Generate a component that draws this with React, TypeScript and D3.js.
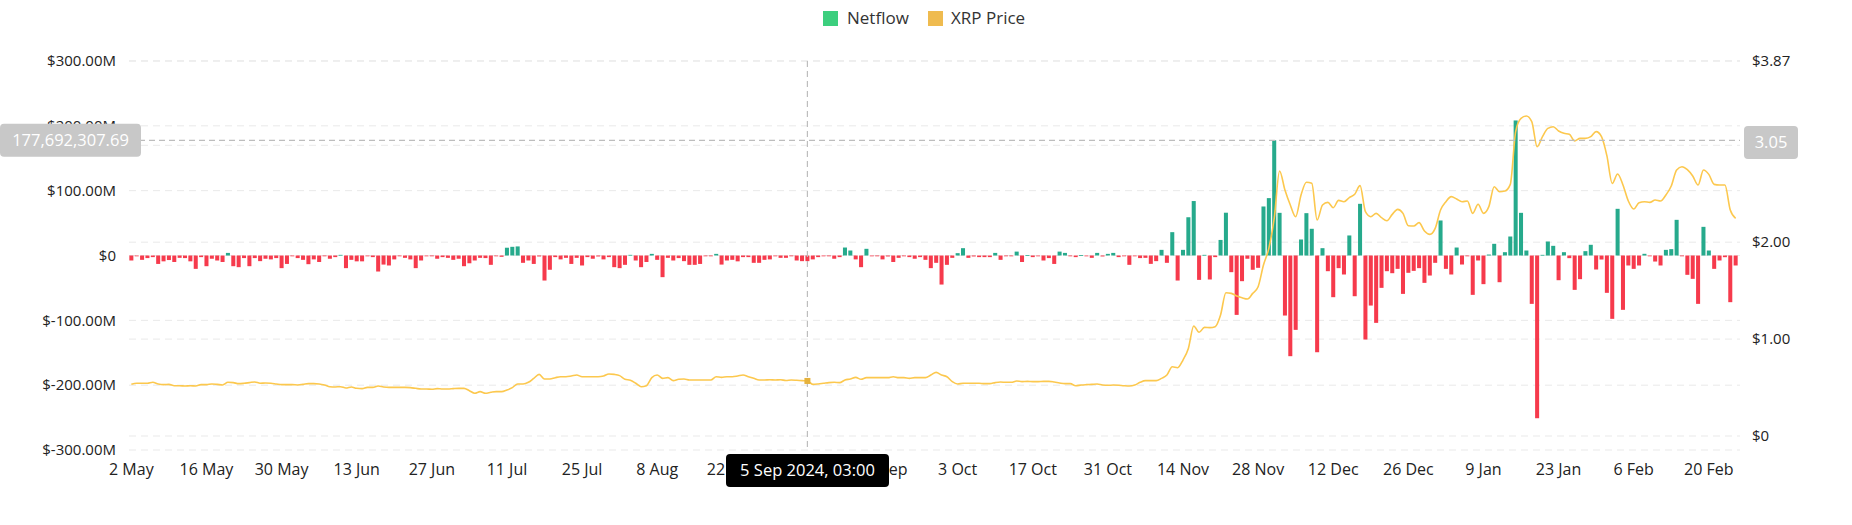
import * as d3 from 'd3';

// daily values, 2 May 2024 .. 25 Feb 2025
const netflow = [
  -7.7, -1, -6.7, -4, -2.5, -13, -9, -7, -10, -3.6, -4, -9, -20.6, -2.5, -16.5, -5, -7.7, -10, 4, -16.5,
  -18, -4, -16.5, -4, -8.7, -5, -6, -4, -19.5, -13, -1, -4, -6.7, -13.4, -6, -10, -1, -5, -2.5, 1,
  -19.5, -6.7, -9, -9, -1, -2.5, -24.7, -14, -15.4, -6, -1, -3.6, -6, -19.5, -7.7, -0.3, -1, -5, -2.5, -3.6,
  -6.7, -5, -16.5, -12, -7.7, -3.6, -4, -14.4, -0.5, -2, 12, 13.4, 14, -11.3, -7.7, -13, -1.5, -38.6, -22, -2.5,
  -6, -3.6, -13, -3.6, -15.4, -2.5, -5, -1.5, -6, -2.5, -18, -19.5, -14.4, 1, -7.7, -18, -10, 2.5, -6.7, -33.4,
  -3.6, -7.7, -4, -8.7, -14.4, -14.4, -13, -1, -1, 2.5, -14, -7.7, -6.7, -9, -2.5, -2.5, -11.3, -11.3, -6.7, -6,
  -1, -3.6, -3.6, -1, -7.7, -8.7, -8.7, -6, -2.5, -1, -0.5, -5, -2.5, 12.3, 7.7, -6, -18, 10.3, -1, -1,
  -6, -1.5, -10, -3.6, -1, -2.5, -5, -2.5, -6.7, -19.5, -11.3, -44.8, -14.4, -3.6, 3.6, 11.3, -3.6, -1.5, -2.5, -2.5,
  -2.5, 4, -6.7, -1, -1, 6, -10, 0.5, -2.5, -0.5, -7.7, -4, -13, 6, 4, -1, -2.5, 0.5, -1, -3.6,
  4, -1.5, 2.5, 4, -2.5, -0.3, -14.4, -1, -4, -3.6, -12.9, -8.7, 8.7, -11.3, 36, -38.6, 8.7, 59, 84, -37.6,
  1, -37, -2.5, 24, 66, -25.7, -91.6, -39.6, -5, -22, -19, 75.6, 88.5, 177.69, 65.8, -92.6, -155.3, -114.7, 24.7, 65.3,
  41.2, -149.2, 11.3, -24.2, -64.3, -19.5, -29.3, 30.9, -62.8, 79.7, -129.6, -77.2, -103.9, -49.9, -24.2, -27.3, -20.6, -59.2, -26.7, -23.7,
  -19.5, -42.2, -30.9, -11.3, 54, -20.6, -29.3, 12.3, -13.9, -1, -60.7, -7.7, -44.2, 1.5, 18, -41.2, 5.1, 29.3, 208.3, 65.8,
  7.7, -74.6, -251, 1, 21.6, 14.9, -38.1, 5.1, -4.1, -53, -36.5, 6.7, 16.5, -21.6, -6.2, -57.6, -97.7, 72, -83.8, -15.4,
  -20.6, -15.4, 2.6, -0.5, -9.3, -15.4, 8.7, 9.8, 55, -1, -29.8, -36, -74.6, 44.2, 7.7, -20.6, -7.7, -2.6, -72, -15.4,
];

const price = [
  0.533, 0.544, 0.544, 0.544, 0.554, 0.537, 0.53, 0.533, 0.519, 0.519, 0.516, 0.519, 0.516, 0.53, 0.53, 0.537, 0.533, 0.527, 0.554, 0.551,
  0.54, 0.544, 0.551, 0.558, 0.544, 0.547, 0.544, 0.537, 0.53, 0.53, 0.53, 0.527, 0.533, 0.54, 0.54, 0.537, 0.527, 0.509, 0.506, 0.509,
  0.495, 0.506, 0.492, 0.489, 0.502, 0.502, 0.516, 0.506, 0.502, 0.502, 0.502, 0.502, 0.499, 0.492, 0.485, 0.485, 0.482, 0.489, 0.485, 0.485,
  0.489, 0.492, 0.492, 0.468, 0.441, 0.458, 0.441, 0.451, 0.458, 0.458, 0.475, 0.499, 0.537, 0.537, 0.554, 0.595, 0.636, 0.588, 0.588, 0.602,
  0.612, 0.612, 0.619, 0.629, 0.612, 0.612, 0.612, 0.612, 0.619, 0.64, 0.636, 0.623, 0.585, 0.575, 0.544, 0.509, 0.519, 0.602, 0.629, 0.595,
  0.602, 0.571, 0.585, 0.588, 0.578, 0.578, 0.578, 0.578, 0.578, 0.612, 0.605, 0.612, 0.612, 0.619, 0.629, 0.612, 0.595, 0.578, 0.578, 0.581,
  0.578, 0.581, 0.572, 0.578, 0.575, 0.571, 0.568, 0.533, 0.537, 0.544, 0.551, 0.554, 0.551, 0.578, 0.588, 0.605, 0.585, 0.602, 0.602, 0.602,
  0.602, 0.602, 0.612, 0.602, 0.602, 0.595, 0.602, 0.602, 0.602, 0.629, 0.657, 0.629, 0.612, 0.561, 0.537, 0.544, 0.544, 0.544, 0.544, 0.54,
  0.54, 0.551, 0.557, 0.554, 0.554, 0.568, 0.561, 0.564, 0.561, 0.561, 0.564, 0.564, 0.557, 0.547, 0.54, 0.54, 0.519, 0.526, 0.53, 0.533,
  0.537, 0.526, 0.523, 0.526, 0.524, 0.519, 0.516, 0.526, 0.554, 0.571, 0.571, 0.571, 0.595, 0.629, 0.714, 0.705, 0.784, 0.904, 1.135, 1.07,
  1.121, 1.118, 1.128, 1.249, 1.479, 1.472, 1.445, 1.427, 1.414, 1.472, 1.541, 1.765, 1.937, 2.246, 2.735, 2.538, 2.384, 2.263, 2.487, 2.618,
  2.608, 2.229, 2.384, 2.411, 2.356, 2.432, 2.418, 2.46, 2.494, 2.584, 2.315, 2.263, 2.298, 2.253, 2.222, 2.287, 2.339, 2.298, 2.17, 2.167,
  2.202, 2.116, 2.081, 2.143, 2.332, 2.418, 2.47, 2.446, 2.418, 2.425, 2.298, 2.391, 2.298, 2.367, 2.573, 2.521, 2.528, 2.597, 3.141, 3.278,
  3.302, 3.244, 2.986, 3.09, 3.175, 3.192, 3.148, 3.124, 3.113, 3.045, 3.072, 3.072, 3.089, 3.141, 3.089, 2.893, 2.607, 2.704, 2.59, 2.425,
  2.343, 2.408, 2.418, 2.411, 2.435, 2.425, 2.487, 2.58, 2.745, 2.779, 2.748, 2.683, 2.59, 2.745, 2.7, 2.597, 2.59, 2.59, 2.332, 2.246,
];

const xTickLabels = [
  '2 May', '16 May', '30 May', '13 Jun', '27 Jun', '11 Jul', '25 Jul', '8 Aug', '22 Aug', '5 Sep', '19 Sep',
  '3 Oct', '17 Oct', '31 Oct', '14 Nov', '28 Nov', '12 Dec', '26 Dec', '9 Jan', '23 Jan', '6 Feb', '20 Feb',
];
const leftTicks = [300, 200, 100, 0, -100, -200, -300];
const rightTicks = [3.87, 3, 2, 1, 0];

// crosshair state in the screenshot
const hoverIndex = 126;
const hoverNetflow = 177692307.69;
const hoverPrice = 3.05;
const hoverLabel = '5 Sep 2024, 03:00';

const W = 1852;
const H = 525;
const left = 129;
const right = 1740;
const top = 61;
const bottom = 450;
const font = '"Open Sans", "Noto Sans", sans-serif';

const dates = d3.timeDay.range(new Date(2024, 4, 2), new Date(2024, 4, 2 + netflow.length));
const fmtDay = d3.timeFormat('%-d %b');

export default function App() {
  const x = d3.scaleBand<number>()
    .domain(d3.range(netflow.length))
    .range([left - 1, right - 1])
    .padding(0.25);
  const yL = d3.scaleLinear().domain([-300, 300]).range([bottom, top]);
  const yR = d3.scaleLinear().domain([0, 3.87]).range([436, top]);
  const cx = (i: number) => (x(i) ?? 0) + x.bandwidth() / 2;

  const line = d3.line<number>()
    .x((_, i) => cx(i))
    .y(d => yR(d))
    .curve(d3.curveMonotoneX);

  const fmtLeft = (v: number) => (v === 0 ? '$0' : `$${v.toFixed(2)}M`);
  const fmtRight = (v: number) => (v === 0 ? '$0' : `$${v.toFixed(2)}`);

  const hx = cx(hoverIndex);
  const hy = yL(hoverNetflow / 1e6);

  return (
    <svg width={W} height={H} style={{ position: 'absolute', left: 0, top: 0, fontFamily: font }}>
      <rect width={W} height={H} fill="#fff" />

      {/* legend */}
      <g fontSize={17} fill="#333">
        <rect x={823} y={11} width={15} height={15} fill="#3ccf7e" />
        <text x={847} y={24}>Netflow</text>
        <rect x={928} y={11} width={15} height={15} fill="#efbb4f" />
        <text x={951} y={24}>XRP Price</text>
      </g>

      {/* grid */}
      <g stroke="#e9e9e9" strokeDasharray="7,5">
        {leftTicks.map(t => (
          <line key={'gl' + t} x1={left} x2={right} y1={yL(t)} y2={yL(t)} />
        ))}
        {rightTicks.map(t => (
          <line key={'gr' + t} x1={left} x2={right} y1={yR(t)} y2={yR(t)} />
        ))}
      </g>

      {/* netflow bars */}
      <g>
        {netflow.map((v, i) => (
          <rect
            key={i}
            x={x(i)}
            width={x.bandwidth()}
            y={Math.min(yL(0), yL(v))}
            height={Math.max(0.8, Math.abs(yL(v) - yL(0)))}
            fill={v >= 0 ? '#26aa8c' : '#f63a4c'}
          />
        ))}
      </g>

      {/* price line */}
      <path d={line(price) ?? ''} fill="none" stroke="#fcc84e" strokeWidth={1.6} />

      {/* crosshair */}
      <g stroke="#bdbdbd" strokeDasharray="6,4" strokeWidth={1.2}>
        <line x1={hx} x2={hx} y1={top} y2={bottom} />
        <line x1={left} x2={right} y1={hy} y2={hy} />
      </g>
      <rect x={hx - 3} y={yR(price[hoverIndex]) - 3} width={6} height={6} fill="#e6b23c" />

      {/* left axis */}
      <g fontSize={15} fill="#222" textAnchor="end">
        {leftTicks.map(t => (
          <text key={t} x={116} y={yL(t)} dy="0.35em">{fmtLeft(t)}</text>
        ))}
      </g>

      {/* right axis */}
      <g fontSize={15} fill="#222">
        {rightTicks.map(t => (
          <text key={t} x={1752} y={yR(t)} dy="0.35em">{fmtRight(t)}</text>
        ))}
      </g>

      {/* x axis */}
      <g fontSize={16} fill="#222" textAnchor="middle">
        {xTickLabels.map(lbl => {
          const i = dates.findIndex(d => fmtDay(d) === lbl);
          return (
            <text key={lbl} x={cx(i)} y={475}>{lbl}</text>
          );
        })}
      </g>

      {/* crosshair labels */}
      <g fontSize={16.5} fill="#fff" textAnchor="middle">
        <rect x={0} y={hy - 16.5} width={141} height={33} rx={4} fill="#c8c8c8" />
        <text x={70.5} y={hy} dy="0.35em">{d3.format(',.2f')(hoverNetflow)}</text>
        <rect x={1744} y={yR(hoverPrice) - 16.5 + 2} width={54} height={33} rx={4} fill="#c8c8c8" />
        <text x={1771} y={yR(hoverPrice) + 2} dy="0.35em">{hoverPrice.toFixed(2)}</text>
        <rect x={726} y={454} width={163} height={33} rx={4} fill="#000" />
        <text x={807.5} y={470.5} dy="0.35em">{hoverLabel}</text>
      </g>
    </svg>
  );
}
